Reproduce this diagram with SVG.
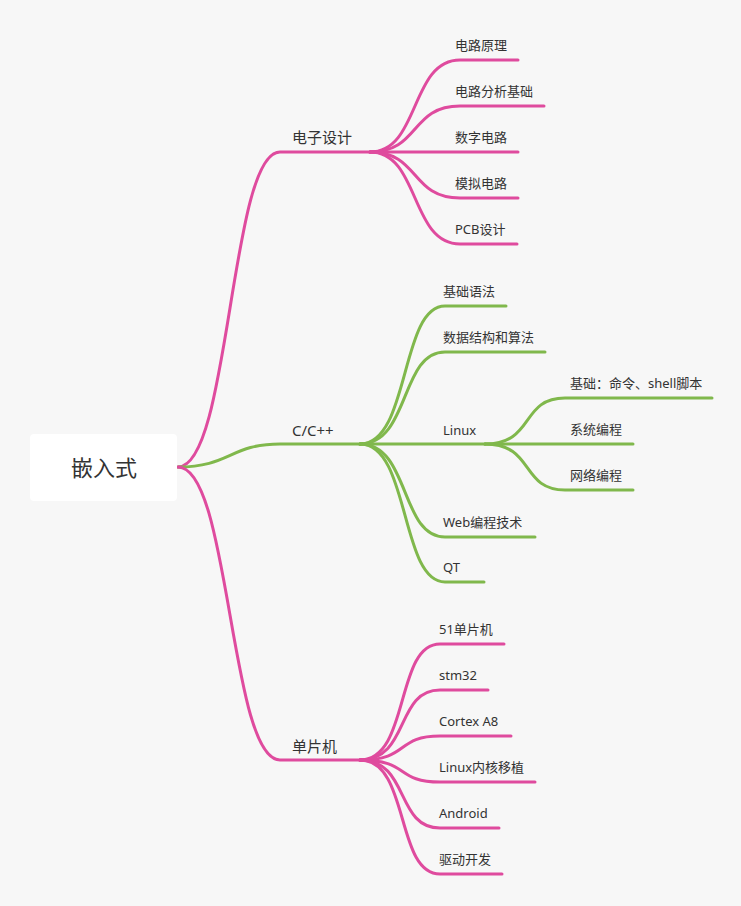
<svg xmlns="http://www.w3.org/2000/svg" width="741" height="906" viewBox="0 0 741 906">
<style>
.p{fill:none;stroke:#df4b9e;stroke-width:3;stroke-linecap:round}
.g{fill:none;stroke:#80b84c;stroke-width:3;stroke-linecap:round}
text{font-family:"Noto Sans","Noto Sans CJK SC",sans-serif;fill:#333;font-size:13px}
.l1{font-size:15px}
.r{font-size:22px}
</style>
<rect width="741" height="906" fill="#f7f7f7"/>
<g id="connectors">
<path class="p" d="M178,467 C230,467 230,152 280,152 L370,152"/>
<path class="g" d="M178,467 C230,467 230,444 280,444 L360,444"/>
<path class="p" d="M178,467 C230,467 230,760 280,760 L360,760"/>
<path class="p" d="M370,152 C420,152 410,60 460,60 L518,60"/>
<path class="p" d="M370,152 C420,152 410,106 460,106 L544,106"/>
<path class="p" d="M370,152 L518,152"/>
<path class="p" d="M370,152 C420,152 410,198 460,198 L518,198"/>
<path class="p" d="M370,152 C420,152 410,244 460,244 L517,244"/>
<path class="g" d="M360,444 C410,444 400,306 445,306 L506,306"/>
<path class="g" d="M360,444 C410,444 400,352 445,352 L545,352"/>
<path class="g" d="M360,444 L485,444"/>
<path class="g" d="M360,444 C410,444 400,537 445,537 L535,537"/>
<path class="g" d="M360,444 C410,444 400,582 445,582 L484,582"/>
<path class="g" d="M485,444 C535,444 520,398 565,398 L712,398"/>
<path class="g" d="M485,444 L633,444"/>
<path class="g" d="M485,444 C535,444 520,490 565,490 L633,490"/>
<path class="p" d="M360,760 C410,760 395,644 440,644 L504,644"/>
<path class="p" d="M360,760 C410,760 395,690 440,690 L488,690"/>
<path class="p" d="M360,760 C410,760 395,736 440,736 L511,736"/>
<path class="p" d="M360,760 C410,760 395,782 440,782 L535,782"/>
<path class="p" d="M360,760 C410,760 395,828 440,828 L499,828"/>
<path class="p" d="M360,760 C410,760 395,874 440,874 L502,874"/>
</g>
<g id="root"><rect x="30" y="434" width="147" height="67" rx="4" fill="#fff"/><text class="r" x="104" y="476" text-anchor="middle">嵌入式</text></g>
<g id="n1"><text class="l1" x="292" y="143">电子设计</text></g>
<g id="n2"><text class="l1" x="292" y="436">C/C++</text></g>
<g id="n3"><text class="l1" x="292" y="752">单片机</text></g>
<g id="a1"><text x="455" y="50">电路原理</text></g>
<g id="a2"><text x="455" y="96">电路分析基础</text></g>
<g id="a3"><text x="455" y="142">数字电路</text></g>
<g id="a4"><text x="455" y="188">模拟电路</text></g>
<g id="a5"><text x="455" y="234">PCB设计</text></g>
<g id="b1"><text x="443" y="296">基础语法</text></g>
<g id="b2"><text x="443" y="342">数据结构和算法</text></g>
<g id="b3"><text x="443" y="435">Linux</text></g>
<g id="b4"><text x="443" y="527">Web编程技术</text></g>
<g id="b5"><text x="443" y="572">QT</text></g>
<g id="c1"><text x="570" y="388">基础：命令、shell脚本</text></g>
<g id="c2"><text x="570" y="434">系统编程</text></g>
<g id="c3"><text x="570" y="480">网络编程</text></g>
<g id="d1"><text x="439" y="634">51单片机</text></g>
<g id="d2"><text x="439" y="680">stm32</text></g>
<g id="d3"><text x="439" y="726">Cortex A8</text></g>
<g id="d4"><text x="439" y="772">Linux内核移植</text></g>
<g id="d5"><text x="439" y="818">Android</text></g>
<g id="d6"><text x="439" y="864">驱动开发</text></g>
</svg>
